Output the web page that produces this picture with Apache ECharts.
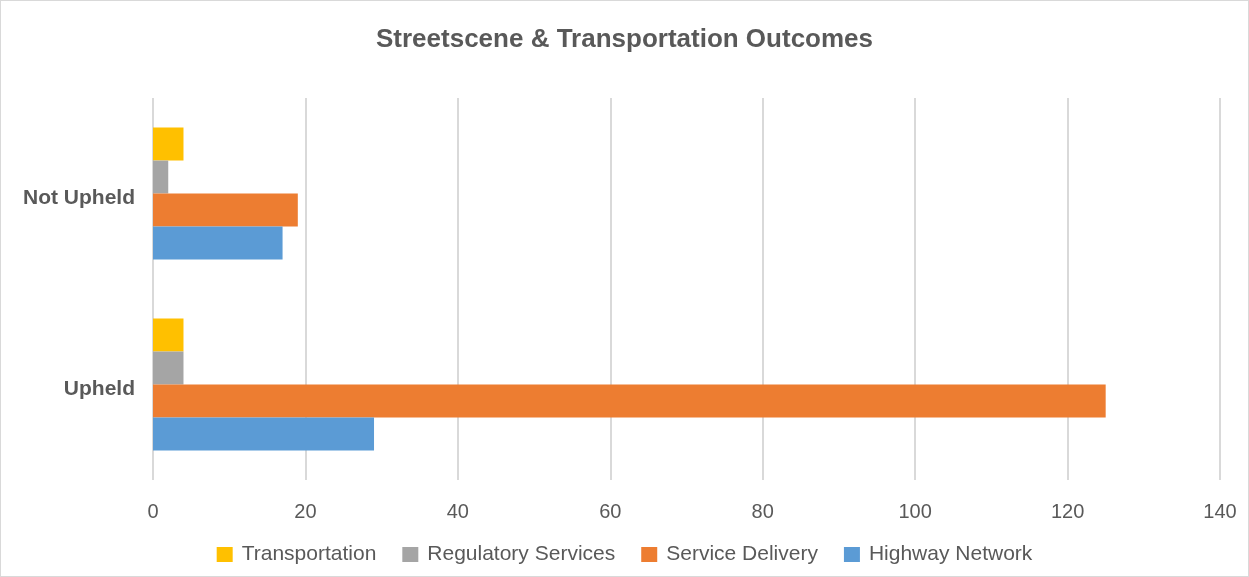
<!DOCTYPE html>
<html>
<head>
<meta charset="utf-8">
<script src="https://cdn.jsdelivr.net/npm/echarts@6/dist/echarts.min.js"></script>
<style>
  html, body { margin: 0; padding: 0; background: #fff; }
  #chart { width: 1249px; height: 577px; box-sizing: border-box; border: 1px solid #d9d9d9; }
</style>
</head>
<body>
<div id="chart"></div>
<script>
var categories = ["Upheld", "Not Upheld"];
var transportation = [4, 4];
var regulatoryServices = [4, 2];
var serviceDelivery = [125, 19];
var highwayNetwork = [29, 17];
var legendOrder = ["Transportation", "Regulatory Services", "Service Delivery", "Highway Network"];

var myChart = echarts.init(document.getElementById("chart"));

function barSeries(name, data, color) {
  return {
    name: name,
    type: "bar",
    data: data,
    barGap: "0%",
    barCategoryGap: "31%",
    itemStyle: { color: color }
  };
}

myChart.setOption({
  animation: false,
  textStyle: { fontFamily: "Liberation Sans, Arial, sans-serif" },
  title: {
    text: "Streetscene & Transportation Outcomes",
    left: "center",
    top: 21,
    textStyle: { fontSize: 26, fontWeight: "bold", color: "#595959" }
  },
  legend: {
    data: legendOrder,
    bottom: 6,
    left: "center",
    itemWidth: 16,
    itemHeight: 15,
    itemGap: 26,
    icon: "rect",
    textStyle: { fontSize: 21, color: "#595959", padding: [0, 0, 0, 4] }
  },
  grid: { left: 152, right: 28, top: 97, bottom: 96, containLabel: false },
  xAxis: {
    type: "value",
    min: 0,
    max: 140,
    interval: 20,
    axisLine: { show: false },
    axisTick: { show: false },
    axisLabel: { fontSize: 20, color: "#595959", margin: 22 },
    splitLine: { lineStyle: { color: "#d9d9d9", width: 2 } }
  },
  yAxis: {
    type: "category",
    data: categories,
    axisLine: { show: false },
    axisTick: { show: false },
    axisLabel: {
      margin: 18,
      formatter: "{a|{value}}",
      rich: {
        a: { fontSize: 21, fontWeight: "bold", color: "#595959", padding: [9, 0, 0, 0] }
      }
    }
  },
  series: [
    barSeries("Transportation", transportation, "#ffc000"),
    barSeries("Regulatory Services", regulatoryServices, "#a5a5a5"),
    barSeries("Service Delivery", serviceDelivery, "#ed7d31"),
    barSeries("Highway Network", highwayNetwork, "#5b9bd5")
  ]
});
</script>
</body>
</html>
